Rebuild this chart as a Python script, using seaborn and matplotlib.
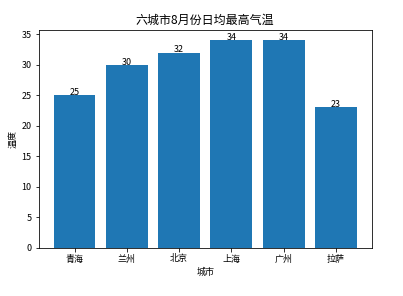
import matplotlib
matplotlib.use("Agg")
import matplotlib.pyplot as plt
import seaborn as sns
import pandas as pd

cities = ["青海", "兰州", "北京", "上海", "广州", "拉萨"]
temps = [25, 30, 32, 34, 34, 23]

plt.rcParams['font.family'] = ['Noto Sans CJK SC', 'DejaVu Sans']
plt.rcParams['axes.unicode_minus'] = False

df = pd.DataFrame({"城市": cities, "温度": temps})

fig = plt.figure(figsize=(403/72, 296/72), dpi=72)
ax = fig.add_axes([38.5/403, 1-247.5/296, (372-38.5)/403, (247.5-30)/296])
sns.barplot(data=df, x="城市", y="温度", color="#1f77b4", saturation=1, width=0.8, ax=ax)
ax.set_xlim(-0.69, 5.69)
ax.set_ylim(0, 35.7)
for i, v in enumerate(temps):
    ax.text(i, v - 0.3, str(v), ha="center", va="bottom", fontsize=9)
ax.set_title("六城市8月份日均最高气温", fontsize=12)
ax.set_xlabel("城市", fontsize=9)
ax.set_ylabel("温度", fontsize=9)
ax.tick_params(labelsize=9)
fig.savefig("out.png", dpi=72)
